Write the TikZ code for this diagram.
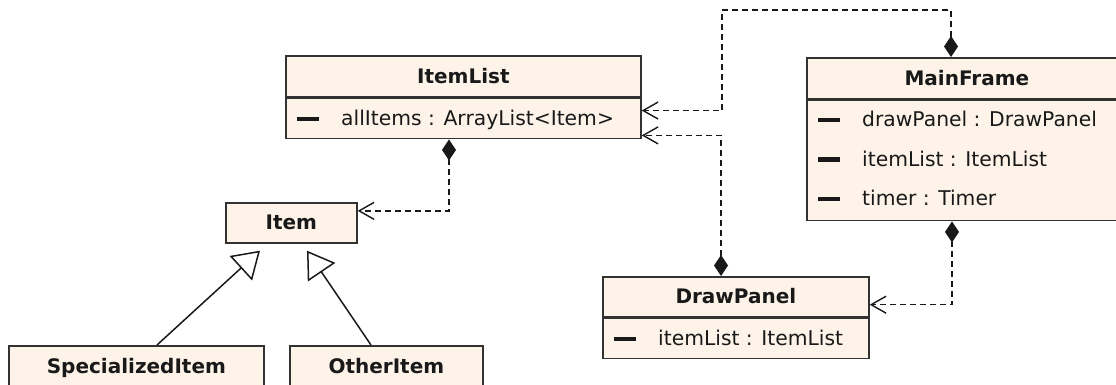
\documentclass[tikz,border=0pt]{standalone}
\usepackage{fontspec}
\setmainfont{DejaVu Sans}
\usetikzlibrary{arrows.meta,calc}
\definecolor{boxfill}{RGB}{253,243,233}
\definecolor{boxline}{RGB}{50,50,50}
\definecolor{ink}{RGB}{25,25,25}
\tikzset{
  umlbox/.style={draw=boxline, fill=boxfill, line width=1.7pt, inner sep=0pt,
    anchor=north west, text=ink, font=\fontsize{20}{24}\selectfont\bfseries,
    text height=14pt, text depth=0pt},
  attr/.style={anchor=west, inner sep=0pt, text=ink,
    font=\fontsize{20.3}{24}\selectfont, text height=14pt, text depth=0pt},
  privbar/.style={fill=ink},
  dep/.style={draw=ink, line width=1.4pt, dash pattern=on 6pt off 4pt,
    {Diamond[length=21pt,width=14pt]}-{Straight Barb[length=15pt,width=17pt]}},
  gen/.style={draw=ink, line width=1.5pt,
    -{Triangle[open,length=26pt,width=33pt,fill=white]}}
}
\newcommand{\privmark}[1]{\fill[privbar] ($(#1)+(-44,-2)$) rectangle ++(22,4.5);}
\begin{document}
\begin{tikzpicture}[x=1pt,y=-1pt]
\useasboundingbox (0,0) rectangle (1116,385);
\clip (0,0) rectangle (1116,385);

% ItemList
\node[umlbox, minimum width=355pt, minimum height=41pt] (ilHead) at (285,55) {ItemList};
\node[umlbox, minimum width=355pt, minimum height=40pt] (ilBody) at (ilHead.south west) {};
\node[attr] (ilA1) at ($(ilBody.west)+(56,0)$) {allItems : ArrayList<Item>};
\privmark{ilA1.west}

% MainFrame
\node[umlbox, minimum width=320pt, minimum height=41pt] (mfHead) at (806,57) {MainFrame};
\node[umlbox, minimum width=320pt, minimum height=120pt] (mfBody) at (mfHead.south west) {};
\node[attr] (mfA1) at ($(mfBody.north west)+(56,20)$) {drawPanel : DrawPanel};
\node[attr] (mfA2) at ($(mfBody.north west)+(56,59.5)$) {itemList : ItemList};
\node[attr] (mfA3) at ($(mfBody.north west)+(56,99)$) {timer : Timer};
\privmark{mfA1.west}
\privmark{mfA2.west}
\privmark{mfA3.west}

% DrawPanel
\node[umlbox, minimum width=266pt, minimum height=40pt] (dpHead) at (602,276) {DrawPanel};
\node[umlbox, minimum width=266pt, minimum height=40pt] (dpBody) at (dpHead.south west) {};
\node[attr] (dpA1) at ($(dpBody.west)+(56,0)$) {itemList : ItemList};
\privmark{dpA1.west}

% Item and subclasses
\node[umlbox, minimum width=131pt, minimum height=40pt] (item) at (225,202) {Item};
\node[umlbox, minimum width=255pt, minimum height=41pt] (spec) at (8,345) {SpecializedItem};
\node[umlbox, minimum width=193pt, minimum height=41pt] (other) at (289,345) {OtherItem};

% connector ends
\coordinate (mfTop) at ($(mfHead.north west)+(145,0)$);
\coordinate (mfBot) at ($(mfBody.south west)+(146,0)$);
\coordinate (bendTop) at (722,10);
\coordinate (ilIn1) at ($(ilBody.east)+(0,-8)$);
\coordinate (ilIn2) at ($(ilBody.south east)+(0,-4)$);
\coordinate (dpTop) at ($(dpHead.north west)+(119,0)$);
\coordinate (dpIn) at ($(dpHead.south east)+(0,-13)$);
\coordinate (ilBot) at ($(ilBody.south west)+(164,0)$);
\coordinate (itemIn) at ($(item.east)+(0,-12)$);
\coordinate (specTop) at ($(spec.north west)+(149,0)$);
\coordinate (otherTop) at ($(other.north west)+(82,0)$);
\coordinate (genTipA) at ($(item.south west)+(35,7)$);
\coordinate (genTipB) at ($(item.south west)+(82,7)$);

% associations
\draw[dep] (mfTop) |- (bendTop) |- (ilIn1);
\draw[dep] (dpTop) |- (ilIn2);
\draw[dep] (mfBot) |- (dpIn);
\draw[dep] (ilBot) |- (itemIn);

% generalizations
\draw[gen] (specTop) -- (genTipA);
\draw[gen] (otherTop) -- (genTipB);
\end{tikzpicture}
\end{document}
